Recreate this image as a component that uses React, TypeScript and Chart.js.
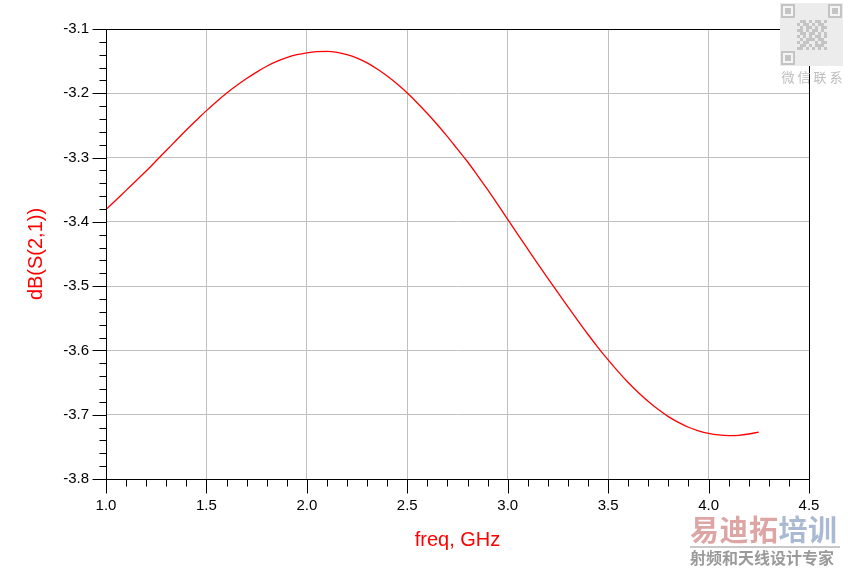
import React, { useEffect, useRef } from "react";
import { Chart, registerables } from "chart.js";

Chart.register(...registerables);

// ---- data ----
const freqGHz = [
  1.0, 1.05, 1.1, 1.15, 1.2, 1.25, 1.3, 1.35, 1.4, 1.45,
  1.5, 1.55, 1.6, 1.65, 1.7, 1.75, 1.8, 1.85, 1.9, 1.95,
  2.0, 2.05, 2.1, 2.15, 2.2, 2.25, 2.3, 2.35, 2.4, 2.45,
  2.5, 2.55, 2.6, 2.65, 2.7, 2.75, 2.8, 2.85, 2.9, 2.95,
  3.0, 3.05, 3.1, 3.15, 3.2, 3.25, 3.3, 3.35, 3.4, 3.45,
  3.5, 3.55, 3.6, 3.65, 3.7, 3.75, 3.8, 3.85, 3.9, 3.95,
  4.0, 4.05, 4.1, 4.15, 4.2, 4.25,
];
const dBS21 = [
  -3.381, -3.366, -3.351, -3.336, -3.321, -3.305, -3.289, -3.273, -3.257, -3.242,
  -3.227, -3.213, -3.2, -3.188, -3.177, -3.167, -3.158, -3.1505, -3.1445, -3.14,
  -3.137, -3.1353, -3.1348, -3.1362, -3.1397, -3.1452, -3.1527, -3.1622, -3.1732, -3.1857,
  -3.1997, -3.215, -3.2315, -3.249, -3.2675, -3.287, -3.3065, -3.328, -3.35, -3.3728,
  -3.3962, -3.4194, -3.4424, -3.4654, -3.488, -3.5102, -3.5322, -3.554, -3.5752, -3.5955,
  -3.6148, -3.633, -3.65, -3.6655, -3.6795, -3.692, -3.703, -3.712, -3.7195, -3.725,
  -3.729, -3.7315, -3.7325, -3.732, -3.73, -3.727,
];
const xMin = 1.0;
const xMax = 4.5;
const xStep = 0.5;
const yMin = -3.8;
const yMax = -3.1;
const yStep = 0.1;
const xTitle = "freq, GHz";
const yTitle = "dB(S(2,1))";

const FONT = '"Liberation Sans", Arial, sans-serif';
const CJK = '"Noto Sans CJK SC", sans-serif';

const overlayPlugin = {
  id: "overlay",
  afterDraw(chart: any) {
    const ctx = chart.ctx as CanvasRenderingContext2D;
    const { left, right, top, bottom } = chart.chartArea;
    const xs = chart.scales.x;
    const ys = chart.scales.y;
    const L = Math.round(left) + 0.5;
    const R = Math.round(right) + 0.5;
    const T = Math.round(top) + 0.5;
    const B = Math.round(bottom) + 0.5;
    ctx.save();
    ctx.strokeStyle = "#000";
    ctx.lineWidth = 1;
    ctx.beginPath();
    ctx.rect(L, T, R - L, B - T);
    ctx.stroke();
    // x ticks (minor 0.1, major 0.5)
    ctx.beginPath();
    for (let i = Math.round(xMin * 10); i <= Math.round(xMax * 10); i++) {
      const px = Math.round(xs.getPixelForValue(i / 10)) + 0.5;
      const len = i % 5 === 0 ? 14 : 7;
      ctx.moveTo(px, B);
      ctx.lineTo(px, B + len);
    }
    // y ticks (minor 0.02, major 0.1)
    for (let i = Math.round(yMin * 50); i <= Math.round(yMax * 50); i++) {
      const py = Math.round(ys.getPixelForValue(i / 50)) + 0.5;
      const len = i % 5 === 0 ? 14 : 7;
      ctx.moveTo(L, py);
      ctx.lineTo(L - len, py);
    }
    ctx.stroke();

    // axis titles
    ctx.fillStyle = "#ff0000";
    ctx.font = `20px ${FONT}`;
    ctx.textAlign = "center";
    ctx.textBaseline = "alphabetic";
    ctx.fillText(xTitle, (left + right) / 2, 546);
    ctx.save();
    ctx.translate(42, 254);
    ctx.rotate(-Math.PI / 2);
    ctx.fillText(yTitle, 0, 0);
    ctx.restore();

    // watermark: QR-like block
    const qx = 780, qy = 3, qs = 63;
    ctx.fillStyle = "#ececec";
    ctx.fillRect(qx, qy, qs, qs);
    ctx.fillStyle = "#c4c4c4";
    const finder = (fx: number, fy: number) => {
      ctx.fillRect(fx, fy, 14, 14);
      ctx.fillStyle = "#f4f4f4";
      ctx.fillRect(fx + 2, fy + 2, 10, 10);
      ctx.fillStyle = "#c4c4c4";
      ctx.fillRect(fx + 4, fy + 4, 6, 6);
    };
    finder(qx + 1, qy + 1);
    finder(qx + qs - 15, qy + 1);
    finder(qx + 1, qy + qs - 15);
    const pat = [
      "0110101101", "1011010110", "0101101011", "1101011010", "0110110101",
      "1010101101", "0101110110", "1011001011", "0110101110", "1101010101",
    ];
    for (let r = 0; r < pat.length; r++) {
      for (let c = 0; c < pat[r].length; c++) {
        if (pat[r][c] === "1") {
          const bx = qx + 17 + c * 3;
          const by = qy + 17 + r * 3;
          ctx.fillRect(bx, by, 3, 3);
        }
      }
    }
    ctx.fillStyle = "#bdbdbd";
    ctx.font = `13px ${CJK}`;
    ctx.textAlign = "center";
    ctx.textBaseline = "middle";
    const wx = ["微", "信", "联", "系"];
    wx.forEach((ch, k) => ctx.fillText(ch, qx + 8 + k * 16, 77));

    // watermark: bottom right
    ctx.font = `bold 29px ${CJK}`;
    ctx.textBaseline = "middle";
    ctx.textAlign = "left";
    const big = ["易", "迪", "拓", "培", "训"];
    big.forEach((ch, k) => {
      ctx.fillStyle = k < 3 ? "#dea5a5" : "#a9bad2";
      ctx.fillText(ch, 690 + k * 29.5, 530);
    });
    ctx.fillStyle = "#c8c8c8";
    ctx.fillRect(690, 546, 150, 2);
    ctx.fillStyle = "#9a9a9a";
    ctx.font = `bold 16px ${CJK}`;
    ctx.fillText("射频和天线设计专家", 690, 558);
    ctx.restore();
  },
};

export default function App() {
  const ref = useRef<HTMLCanvasElement | null>(null);
  useEffect(() => {
    if (!ref.current) return;
    const chart = new Chart(ref.current, {
      type: "line",
      data: {
        datasets: [
          {
            data: freqGHz.map((f, i) => ({ x: f, y: dBS21[i] })),
            borderColor: "#ff0000",
            borderWidth: 1.3,
            pointRadius: 0,
            cubicInterpolationMode: "monotone",
            fill: false,
          },
        ],
      },
      options: {
        responsive: false,
        animation: false,
        layout: { padding: { top: 29, right: 40, left: 0, bottom: 0 } },
        plugins: { legend: { display: false }, tooltip: { enabled: false } },
        scales: {
          x: {
            type: "linear",
            min: xMin,
            max: xMax,
            afterFit: (s: any) => {
              s.height = 94;
            },
            ticks: {
              stepSize: xStep,
              padding: 18,
              color: "#000",
              font: { family: FONT, size: 15 },
              callback: (v: any) => Number(v).toFixed(1),
              maxRotation: 0,
            },
            grid: { color: "#c0c0c0", drawTicks: false, lineWidth: 1 },
            border: { display: false },
          },
          y: {
            type: "linear",
            min: yMin,
            max: yMax,
            afterFit: (s: any) => {
              s.width = 106;
            },
            ticks: {
              stepSize: yStep,
              padding: 17,
              color: "#000",
              font: { family: FONT, size: 15 },
              callback: (v: any) => Number(v).toFixed(1),
            },
            grid: { color: "#c0c0c0", drawTicks: false, lineWidth: 1 },
            border: { display: false },
          },
        },
      },
      plugins: [overlayPlugin],
    } as any);
    return () => chart.destroy();
  }, []);
  return (
    <div style={{ position: "fixed", left: 0, top: 0, width: 849, height: 573, background: "#fff" }}>
      <canvas ref={ref} width={849} height={573} style={{ display: "block" }} />
    </div>
  );
}
